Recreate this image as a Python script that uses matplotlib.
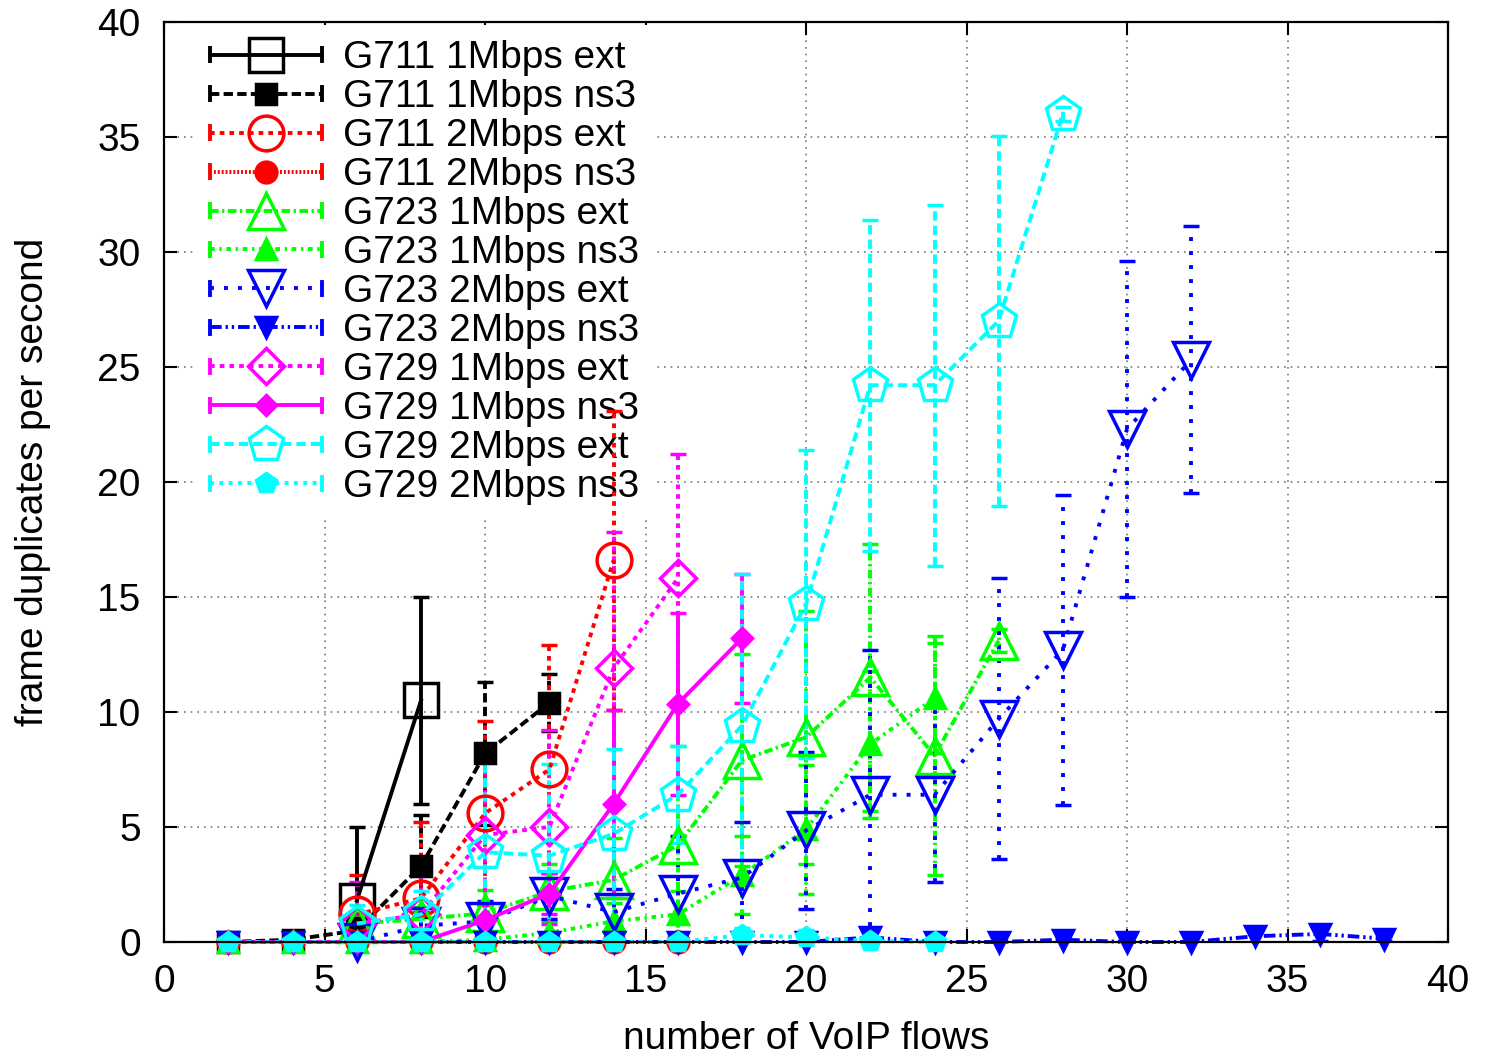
import numpy as np
import matplotlib
matplotlib.use("Agg")
import matplotlib.pyplot as plt
from matplotlib.lines import Line2D
from matplotlib.legend_handler import HandlerLine2D

plt.rcParams['font.family'] = ['Liberation Sans', 'DejaVu Sans']

# data: mean values and symmetric error half-widths
x_g711_1m_ext = [6, 8]
y_g711_1m_ext = [1.8, 10.5]
e_g711_1m_ext = [3.2, 4.5]

x_g711_1m_ns3 = [2, 4, 6, 8, 10, 12]
y_g711_1m_ns3 = [0, 0.1, 0.5, 3.3, 8.2, 10.4]
e_g711_1m_ns3 = [0, 0.1, 0.5, 2.2, 3.1, 1.25]

x_g711_2m_ext = [6, 8, 10, 12, 14]
y_g711_2m_ext = [1.2, 1.9, 5.6, 7.5, 16.6]
e_g711_2m_ext = [1.7, 3.3, 4.0, 5.4, 6.5]

x_g711_2m_ns3 = [2, 4, 6, 8, 10, 12, 14, 16]
y_g711_2m_ns3 = [0, 0, 0, 0, 0, 0, 0, 0]
e_g711_2m_ns3 = [0, 0, 0, 0, 0, 0, 0, 0]

x_g723_1m_ext = [6, 8, 10, 12, 14, 16, 18, 20, 22, 24, 26]
y_g723_1m_ext = [0.8, 1.0, 1.25, 2.2, 2.7, 4.2, 7.9, 8.9, 11.5, 8.1, 13.1]
e_g723_1m_ext = [0.3, 0.5, 1.0, 1.2, 1.8, 4.3, 4.6, 5.5, 5.8, 5.2, 0.5]

x_g723_1m_ns3 = [2, 4, 6, 8, 10, 12, 14, 16, 18, 20, 22, 24]
y_g723_1m_ns3 = [0, 0, 0, 0, 0.1, 0.4, 0.9, 1.2, 2.9, 4.9, 8.6, 10.6]
e_g723_1m_ns3 = [0, 0, 0, 0, 0.2, 0.5, 0.8, 1.0, 1.7, 2.8, 3.2, 2.4]

x_g723_2m_ext = [6, 8, 10, 12, 14, 16, 18, 20, 22, 24, 26, 28, 30, 32]
y_g723_2m_ext = [0, 0.7, 0.9, 2.0, 1.3, 2.1, 2.8, 4.85, 6.4, 6.4, 9.7, 12.7, 22.3, 25.3]
e_g723_2m_ext = [0.3, 0.6, 0.9, 1.0, 1.0, 2.5, 2.4, 3.4, 6.3, 3.8, 6.1, 6.75, 7.3, 5.8]

x_g723_2m_ns3 = [2, 4, 6, 8, 10, 12, 14, 16, 18, 20, 22, 24, 26, 28, 30, 32, 34, 36, 38]
y_g723_2m_ns3 = [0, 0, 0, 0, 0, 0, 0, 0, 0, 0, 0.2, 0, 0, 0.1, 0, 0, 0.25, 0.35, 0.15]
e_g723_2m_ns3 = [0, 0, 0, 0, 0, 0, 0, 0, 0, 0, 0.4, 0, 0, 0.2, 0, 0, 0.35, 0.3, 0.1]

x_g729_1m_ext = [6, 8, 10, 12, 14, 16]
y_g729_1m_ext = [0.8, 1.2, 4.65, 5.0, 11.9, 15.8]
e_g729_1m_ext = [1.8, 2.0, 3.75, 4.2, 5.9, 5.4]

x_g729_1m_ns3 = [2, 4, 6, 8, 10, 12, 14, 16, 18]
y_g729_1m_ns3 = [0, 0, 0, 0, 0.95, 2.1, 6.0, 10.35, 13.2]
e_g729_1m_ns3 = [0, 0, 0, 0, 0.7, 0.9, 4.1, 3.95, 2.8]

x_g729_2m_ext = [6, 8, 10, 12, 14, 16, 18, 20, 22, 24, 26, 28]
y_g729_2m_ext = [0.8, 1.2, 3.9, 3.75, 4.7, 6.4, 9.4, 14.7, 24.2, 24.2, 27.0, 36.0]
e_g729_2m_ext = [0.8, 1.0, 4.7, 4.0, 3.7, 2.1, 6.6, 6.7, 7.2, 7.85, 8.05, 0.3]

x_g729_2m_ns3 = [2, 4, 6, 8, 10, 12, 14, 16, 18, 20, 22, 24]
y_g729_2m_ns3 = [0, 0, 0, 0, 0, 0, 0, 0, 0.3, 0.2, 0.05, 0]
e_g729_2m_ns3 = [0, 0, 0, 0, 0, 0, 0, 0, 0.3, 0.3, 0.2, 0.1]

labels = ['G711 1Mbps ext', 'G711 1Mbps ns3', 'G711 2Mbps ext', 'G711 2Mbps ns3',
          'G723 1Mbps ext', 'G723 1Mbps ns3', 'G723 2Mbps ext', 'G723 2Mbps ns3',
          'G729 1Mbps ext', 'G729 1Mbps ns3', 'G729 2Mbps ext', 'G729 2Mbps ns3']

series = [
    (x_g711_1m_ext, y_g711_1m_ext, e_g711_1m_ext),
    (x_g711_1m_ns3, y_g711_1m_ns3, e_g711_1m_ns3),
    (x_g711_2m_ext, y_g711_2m_ext, e_g711_2m_ext),
    (x_g711_2m_ns3, y_g711_2m_ns3, e_g711_2m_ns3),
    (x_g723_1m_ext, y_g723_1m_ext, e_g723_1m_ext),
    (x_g723_1m_ns3, y_g723_1m_ns3, e_g723_1m_ns3),
    (x_g723_2m_ext, y_g723_2m_ext, e_g723_2m_ext),
    (x_g723_2m_ns3, y_g723_2m_ns3, e_g723_2m_ns3),
    (x_g729_1m_ext, y_g729_1m_ext, e_g729_1m_ext),
    (x_g729_1m_ns3, y_g729_1m_ns3, e_g729_1m_ns3),
    (x_g729_2m_ext, y_g729_2m_ext, e_g729_2m_ext),
    (x_g729_2m_ns3, y_g729_2m_ns3, e_g729_2m_ns3),
]

# colour, dash pattern (in linewidths), marker, marker size, filled
styles = [
    ('#000000', '-',                      's', 25, False),
    ('#000000', (0, (2.4, 1.1)),          's', 14, True),
    ('#ff0000', (0, (1.2, 1.3)),          'o', 25, False),
    ('#ff0000', (0, (0.5, 0.5)),          'o', 15, True),
    ('#00ff00', (0, (2.2, 0.9, 0.6, 0.9)), '^', 26, False),
    ('#00ff00', (0, (1.2, 1.2, 0.6, 1.2)), '^', 14, True),
    ('#0000ff', (0, (1.0, 2.6)),          'v', 26, False),
    ('#0000ff', (0, (3.0, 1.0, 0.6, 1.0, 0.6, 1.0)), 'v', 14, True),
    ('#ff00ff', (0, (1.2, 1.3)),          'D', 18, False),
    ('#ff00ff', '-',                      'D', 10, True),
    ('#00ffff', (0, (2.4, 1.3)),          'p', 26, False),
    ('#00ffff', (0, (1.0, 1.4)),          'p', 15, True),
]

LW = 2.8
FS = 28


class CapHandler(HandlerLine2D):
    def create_artists(self, legend, orig_handle, xdescent, ydescent,
                       width, height, fontsize, trans):
        arts = super().create_artists(legend, orig_handle, xdescent, ydescent,
                                      width, height, fontsize, trans)
        xdata, _ = self.get_xdata(legend, xdescent, ydescent, width, height, fontsize)
        yc = (height - ydescent) / 2
        h = 0.17 * fontsize
        for xx in (xdata[0], xdata[-1]):
            cap = Line2D([xx, xx], [yc - h, yc + h], color=orig_handle.get_color(),
                         lw=orig_handle.get_linewidth())
            cap.set_transform(trans)
            arts.append(cap)
        return arts


fig = plt.figure(figsize=(14.91, 10.56), dpi=100)
ax = fig.add_axes([164.3 / 1491, 1 - 942 / 1056, 1283.7 / 1491, 920.3 / 1056])

handles = []
for (xs, ys, es), (col, ls, mk, ms, filled), lab in zip(series, styles, labels):
    cont = ax.errorbar(xs, ys, yerr=es, color=col, ls=ls, lw=LW, marker=mk, ms=ms,
                       mfc=col if filled else 'none', mec=col, mew=2.5,
                       elinewidth=LW, capsize=5.5, capthick=LW, label=lab)
    cont[2][0].set_linestyle(ls)
    cont[0].set_clip_on(False)
    handles.append(cont[0])

ax.set_xlim(0, 40)
ax.set_ylim(0, 40)
ax.set_xticks(np.arange(0, 41, 5))
ax.set_yticks(np.arange(0, 41, 5))
ax.grid(True, color='#777777', ls=(0, (1, 3)), lw=1.2, zorder=0)
ax.set_axisbelow(True)
ax.tick_params(direction='in', length=9.5, width=1.5, labelsize=FS,
               top=True, right=True)
ax.tick_params(axis='x', pad=16)
ax.tick_params(axis='y', pad=17)
for sp in ax.spines.values():
    sp.set_linewidth(1.6)

ax.set_xlabel('number of VoIP flows', fontsize=FS)
ax.set_ylabel('frame duplicates per second', fontsize=FS)
ax.xaxis.set_label_coords(0.5, -0.0855)
ax.yaxis.set_label_coords(-0.088, 0.5)

leg = ax.legend(handles, labels, loc='upper left', bbox_to_anchor=(0.0234, 0.9967),
                borderaxespad=0, borderpad=0.4, fontsize=FS, numpoints=1,
                handlelength=2.88, handletextpad=0.54, labelspacing=0.076,
                frameon=True, fancybox=False, framealpha=1,
                handler_map={Line2D: CapHandler()})
leg.get_frame().set_edgecolor('none')
leg.get_frame().set_facecolor('white')
leg.set_zorder(1.5)

fig.savefig('out.png', dpi=100)
